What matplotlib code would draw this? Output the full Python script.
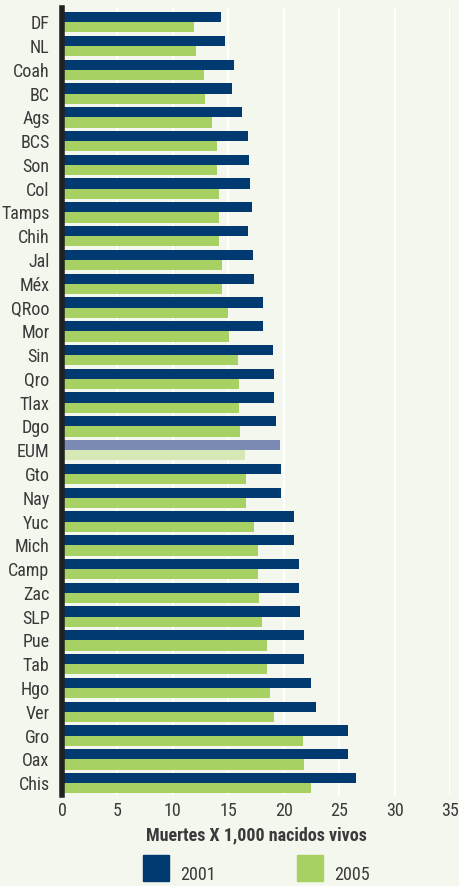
import matplotlib
matplotlib.use('Agg')

import matplotlib.pyplot as plt
import numpy as np
from matplotlib.patches import Rectangle
from matplotlib import font_manager

# data
states = ['DF', 'NL', 'Coah', 'BC', 'Ags', 'BCS', 'Son', 'Col', 'Tamps', 'Chih',
          'Jal', 'Méx', 'QRoo', 'Mor', 'Sin', 'Qro', 'Tlax', 'Dgo', 'EUM', 'Gto',
          'Nay', 'Yuc', 'Mich', 'Camp', 'Zac', 'SLP', 'Pue', 'Tab', 'Hgo', 'Ver',
          'Gro', 'Oax', 'Chis']
rate_2001 = [14.3, 14.7, 15.5, 15.3, 16.2, 16.8, 16.9, 17.0, 17.1, 16.8,
             17.2, 17.3, 18.1, 18.1, 19.0, 19.1, 19.1, 19.3, 19.7, 19.8,
             19.8, 20.9, 20.9, 21.4, 21.4, 21.5, 21.8, 21.8, 22.5, 22.9,
             25.8, 25.8, 26.5]
rate_2005 = [11.9, 12.1, 12.8, 12.9, 13.5, 14.0, 14.0, 14.2, 14.2, 14.2,
             14.4, 14.4, 15.0, 15.1, 15.9, 16.0, 16.0, 16.1, 16.5, 16.6,
             16.6, 17.3, 17.7, 17.7, 17.8, 18.0, 18.5, 18.5, 18.8, 19.1,
             21.7, 21.8, 22.5]
x_ticks = [0, 5, 10, 15, 20, 25, 30, 35]
series_names = ['2001', '2005']

bg = '#f3f7ee'
navy = '#003a70'
green = '#a8d164'
navy_light = '#7b89b5'
green_light = '#d5e8b5'
text_col = '#3a3a3a'

# pick a narrow face if one is around
installed = set(f.name for f in font_manager.fontManager.ttflist)
fam = 'Roboto'
for cand in ['Roboto Condensed', 'Noto Sans Condensed', 'Liberation Sans Narrow',
             'Open Sans Condensed', 'DejaVu Sans Condensed']:
    if cand in installed:
        fam = cand
        break
fam = [fam, 'DejaVu Sans']
fs = 13

fig = plt.figure(figsize=(4.59, 8.86), dpi=100, facecolor=bg)
ax = fig.add_axes([62 / 459, 1 - 795 / 886, (450 - 62) / 459, (795 - 8) / 886])
ax.set_facecolor(bg)

y = np.arange(len(states))
h = 0.43
c01 = [navy_light if s == 'EUM' else navy for s in states]
c05 = [green_light if s == 'EUM' else green for s in states]
ax.barh(y - h / 2, rate_2001, height=h, color=c01, zorder=3)
ax.barh(y + h / 2, rate_2005, height=h, color=c05, zorder=3)

ax.set_xlim(0, 35)
ax.set_ylim(len(states) - 0.5, -0.6)
ax.set_xticks(x_ticks)
ax.set_xticklabels([str(t) for t in x_ticks], family=fam, fontsize=fs, color=text_col)
ax.set_yticks(y)
ax.set_yticklabels(states, family=fam, fontsize=fs, color=text_col)
ax.tick_params(length=0, pad=5)
ax.tick_params(axis='y', pad=9)
ax.grid(axis='x', color='white', linewidth=1.5, zorder=1)

for sp in ['top', 'right', 'bottom']:
    ax.spines[sp].set_visible(False)
ax.spines['left'].set_linewidth(4)
ax.spines['left'].set_color('#222222')
ax.spines['left'].set_zorder(4)

ax.set_xlabel('Muertes X 1,000 nacidos vivos', family=fam, fontsize=fs,
              fontweight='bold', color=text_col, labelpad=5)

# legend drawn by hand below the axis title
for x0, col, name in [(143, navy, series_names[0]), (297, green, series_names[1])]:
    fig.patches.append(Rectangle((x0 / 459, 1 - 881 / 886), 26 / 459, 26 / 886,
                                 transform=fig.transFigure, color=col))
    fig.text((x0 + 37) / 459, 1 - 884 / 886, name, family=fam, fontsize=fs,
             color=text_col, va='bottom', ha='left')

plt.savefig('out.png', facecolor=bg)
